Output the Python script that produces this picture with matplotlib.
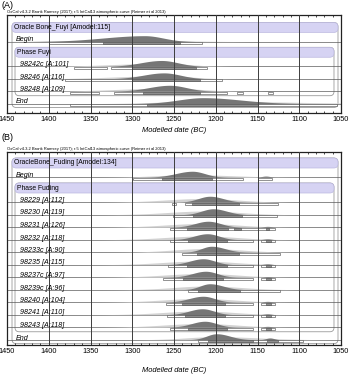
import numpy as np
import matplotlib.pyplot as plt
from matplotlib.patches import FancyBboxPatch, Rectangle

plt.rcParams['font.family'] = ['Liberation Sans', 'DejaVu Sans']

oxcal_note = ('OxCal v4.3.2 Bronk Ramsey (2017); r:5 IntCal13 atmospheric curve '
              '(Reimer et al 2013)')
xticks = [1450, 1400, 1350, 1300, 1250, 1200, 1150, 1100, 1050]

# ---- panel A : Fuyi ----
fuyi_title = 'Oracle Bone_Fuyi [Amodel:115]'
fuyi_phase = 'Phase Fuyi'
fuyi_labels = ['Begin', '98242c [A:101]', '98246 [A:116]', '98248 [A:109]', 'End']
fuyi_peak = [1285, 1265, 1262, 1255, 1215]
fuyi_sd_old = [50, 25, 25, 25, 30]
fuyi_sd_young = [22, 20, 20, 20, 45]
fuyi_bump = [0, 0, 0, 1138, 0]
fuyi_bump_h = [0, 0, 0, 0.08, 0]
fuyi_prior_peak = [1290, 1262, 1260, 1255, 1215]
fuyi_prior_sd_old = [80, 60, 60, 60, 50]
fuyi_prior_sd_young = [50, 30, 30, 35, 100]
fuyi_prior_h = [0.12, 0.25, 0.25, 0.25, 0.2]
fuyi_r68 = [[(1335, 1243)], [(1300, 1224)], [(1300, 1219)], [(1287, 1219)],
            [(1282, 1150)]]
fuyi_r95 = [[(1400, 1216)], [(1370, 1330), (1325, 1210)], [(1380, 1193)],
            [(1375, 1340), (1322, 1187), (1175, 1167), (1137, 1132)],
            [(1375, 1055)]]

# ---- panel B : Fuding ----
fuding_title = 'OracleBone_Fuding [Amodel:134]'
fuding_phase = 'Phase Fuding'
fuding_labels = ['Begin', '98229 [A:112]', '98230 [A:119]', '98231 [A:126]',
                 '98232 [A:118]', '98233c [A:90]', '98235 [A:115]', '98237c [A:97]',
                 '98239c [A:96]', '98240 [A:104]', '98241 [A:110]', '98243 [A:118]',
                 'End']
fuding_peak = [1228, 1207, 1203, 1209, 1210, 1205, 1215, 1212, 1207, 1215, 1216,
               1213, 1199]
fuding_sd_old = [20, 14, 14, 16, 16, 12, 16, 16, 12, 17, 16, 16, 12]
fuding_sd_young = [15, 16, 16, 15, 14, 16, 14, 14, 16, 14, 14, 14, 16]
fuding_bump = [1140, 0, 0, 1138, 1138, 0, 1138, 1138, 0, 1138, 1138, 1138, 1135]
fuding_bump_h = [0.2, 0, 0, 0.15, 0.15, 0, 0.15, 0.12, 0, 0.15, 0.15, 0.15, 0.3]
fuding_prior_peak = [1230, 1215, 1212, 1215, 1215, 1210, 1218, 1215, 1210, 1218,
                     1218, 1216, 1200]
fuding_prior_sd_old = [40, 45, 45, 45, 45, 40, 45, 45, 40, 45, 45, 45, 35]
fuding_prior_sd_young = [50, 40, 40, 40, 40, 40, 40, 40, 40, 40, 40, 40, 50]
fuding_prior_h = [0.2, 0.3, 0.3, 0.3, 0.3, 0.3, 0.3, 0.3, 0.3, 0.3, 0.3, 0.3, 0.25]
fuding_r68 = [[(1264, 1204)], [(1228, 1172)], [(1227, 1169)],
              [(1234, 1185), (1178, 1170), (1140, 1136)],
              [(1233, 1187), (1140, 1134)], [(1222, 1172)],
              [(1234, 1187), (1140, 1134)], [(1239, 1191), (1140, 1134)],
              [(1221, 1171)], [(1240, 1189), (1140, 1134)],
              [(1237, 1189), (1140, 1134)], [(1233, 1187), (1140, 1134)],
              [(1209, 1155), (1139, 1125)]]
fuding_r95 = [[(1299, 1167), (1150, 1133)], [(1252, 1248), (1237, 1125)],
              [(1251, 1127)], [(1255, 1129)], [(1255, 1155), (1146, 1129)],
              [(1240, 1123)], [(1257, 1155), (1146, 1129)],
              [(1263, 1155), (1146, 1129)], [(1233, 1123)],
              [(1260, 1155), (1146, 1129)], [(1258, 1155), (1146, 1129)],
              [(1255, 1155), (1146, 1129)], [(1221, 1095)]]

years = np.linspace(1450, 1050, 801)
W, H = 350, 376
px_per_year = 334 / 400.0


def hump(peak, sd_old, sd_young, bump=0, bump_h=0):
    sd = np.where(years > peak, sd_old, sd_young)
    d = np.exp(-0.5 * ((years - peak) / sd) ** 2)
    if bump:
        d = d + bump_h * np.exp(-0.5 * ((years - bump) / 5.0) ** 2)
    return d / d.max()


def panel(ax, title, phase, labels, peak, sdo, sdy, bump, bump_h,
          ppeak, psdo, psdy, ph, r68, r95, row_px):
    n = len(labels)
    rows = [1] + list(range(3, 3 + n - 2)) + [n + 1]
    end_row = rows[-1]
    ax.set_xlim(1450, 1050)
    asp = px_per_year / row_px

    def band(x0, x1, y, text, tx):
        p = FancyBboxPatch((x1, y - 0.4), x0 - x1, 0.8,
                           boxstyle='round,pad=0,rounding_size=5',
                           mutation_aspect=asp, facecolor='#d6d3f3',
                           edgecolor='#bcb9e0', lw=0.5, zorder=1)
        ax.add_patch(p)
        ax.text(tx, y, text, fontsize=4.9, va='center', ha='left', zorder=7)

    # outer group and phase outlines
    ax.add_patch(FancyBboxPatch((1053.6, -0.4), 1444 - 1053.6, end_row + 0.85,
                                boxstyle='round,pad=0,rounding_size=5',
                                mutation_aspect=asp, facecolor='none',
                                edgecolor='#9a9a9a', lw=0.6, zorder=1))
    ax.add_patch(FancyBboxPatch((1058.4, 1.6), 1440.4 - 1058.4, rows[-2] - 1.1,
                                boxstyle='round,pad=0,rounding_size=5',
                                mutation_aspect=asp, facecolor='none',
                                edgecolor='#9a9a9a', lw=0.6, zorder=1))
    band(1444, 1053.6, 0, title, 1441.5)
    band(1440.4, 1058.4, 2, phase, 1438)

    for i, r in enumerate(rows):
        y0 = r + 0.14
        ax.axhline(y0, color='#5a5a5a', lw=0.5, zorder=1.5)
        pr = hump(ppeak[i], psdo[i], psdy[i]) * ph[i]
        ax.fill_between(years, y0 - pr, y0, color='#d2d2d2', lw=0, zorder=2)
        po = hump(peak[i], sdo[i], sdy[i], bump[i], bump_h[i]) * 0.48
        ax.fill_between(years, y0 - po, y0, color='#767676', lw=0, zorder=2.5)
        for a, b in r95[i]:
            ax.add_patch(Rectangle((b, y0 + 0.04), a - b, 0.16, facecolor='white',
                                   edgecolor='#555555', lw=0.45, zorder=3))
        for a, b in r68[i]:
            ax.add_patch(Rectangle((b, y0 + 0.04), a - b, 0.16, facecolor='#8e8e8e',
                                   edgecolor='#555555', lw=0.45, zorder=3.2))
        bound = labels[i] in ('Begin', 'End')
        ax.text(1439 if bound else 1434.5, r, labels[i], fontsize=5.1,
                style='italic', va='center', ha='left', zorder=7)

    ax.vlines(xticks[1:-1], -5, 30, color='#3c3c3c', lw=0.7, zorder=6)
    ax.set_xticks(xticks)
    ax.set_xticks(np.arange(1450, 1049, -10), minor=True)
    ax.tick_params(axis='x', which='both', direction='in', labelsize=5.3,
                   pad=2.5, top=True)
    ax.tick_params(axis='x', which='major', length=3, width=0.6)
    ax.tick_params(axis='x', which='minor', length=1.5, width=0.5)
    ax.set_yticks([])
    for s in ax.spines.values():
        s.set_linewidth(0.9)
        s.set_color('#222222')


fig = plt.figure(figsize=(W / 100, H / 100), dpi=100)

# panel A
axA = fig.add_axes([7 / W, 1 - 113 / H, 334 / W, 98 / H])
panel(axA, fuyi_title, fuyi_phase, fuyi_labels, fuyi_peak, fuyi_sd_old,
      fuyi_sd_young, fuyi_bump, fuyi_bump_h, fuyi_prior_peak, fuyi_prior_sd_old,
      fuyi_prior_sd_young, fuyi_prior_h, fuyi_r68, fuyi_r95, 12.4)
axA.set_ylim((113 - 27.5) / 12.4, -(27.5 - 15) / 12.4)

# panel B
axB = fig.add_axes([7 / W, 1 - 345 / H, 334 / W, 193 / H])
panel(axB, fuding_title, fuding_phase, fuding_labels, fuding_peak, fuding_sd_old,
      fuding_sd_young, fuding_bump, fuding_bump_h, fuding_prior_peak,
      fuding_prior_sd_old, fuding_prior_sd_young, fuding_prior_h, fuding_r68,
      fuding_r95, 12.5)
axB.set_ylim((345 - 163) / 12.5, -(163 - 152) / 12.5)

for lab, ytop, ynote, yx in [('(A)', 5, 12.5, 130.5), ('(B)', 137.5, 149, 370.5)]:
    fig.text(1 / W, 1 - ytop / H, lab, fontsize=6.5, va='center', ha='left')
    fig.text(7 / W, 1 - ynote / H, oxcal_note, fontsize=3, va='center', ha='left')
    fig.text(174 / W, 1 - yx / H, 'Modelled date (BC)', fontsize=5.4,
             style='italic', va='center', ha='center')

fig.savefig('out.png', dpi=100, facecolor='white')
